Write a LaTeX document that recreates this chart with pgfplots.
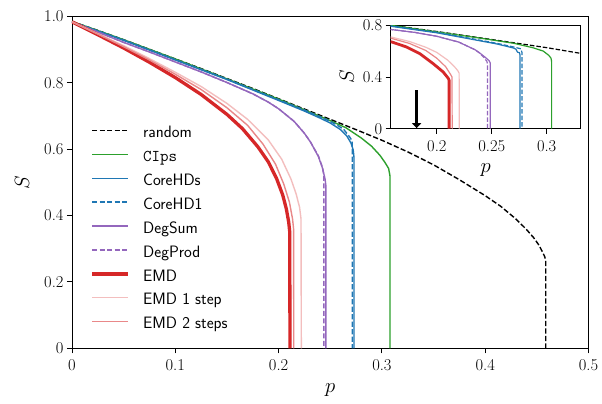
\documentclass[border=0pt]{standalone}
\usepackage{pgfplots}
\pgfplotsset{compat=1.18}
\usetikzlibrary{calc,arrows.meta}
\definecolor{mgreen}{HTML}{2CA02C}
\definecolor{mblue}{HTML}{1F77B4}
\definecolor{mpurple}{HTML}{9467BD}
\definecolor{mred}{HTML}{D62728}
\colorlet{pinkA}{mred!30!white}
\colorlet{pinkB}{mred!55!white}
\begin{document}
\begin{tikzpicture}
\pgfplotsset{
  common/.style={
    scale only axis,
    tick align=outside,
    tick pos=left,
    major tick length=5bp,
    axis line style={line width=0.9bp},
    every tick/.style={line width=0.9bp,black},
    tick label style={font=\fontsize{16.5bp}{19bp}\selectfont},
    xticklabel style={yshift=-3bp},
    label style={font=\fontsize{20bp}{23bp}\selectfont},
    axis background/.style={fill=white},
  },
  lin/.style={line width=1.4bp},
  dsh/.style={line width=1.4bp,dash pattern=on 5.2bp off 2.3bp},
}
\begin{axis}[common,
  at={(0,0)}, anchor=south west,
  width=516.5bp, height=331.8bp,
  xmin=0, xmax=0.5, ymin=0, ymax=1,
  xtick={0,0.1,0.2,0.3,0.4,0.5},
  xticklabels={0,0.1,0.2,0.3,0.4,0.5},
  ytick={0,0.2,0.4,0.6,0.8,1},
  yticklabels={0,0.2,0.4,0.6,0.8,1.0},
  xlabel={$p$}, ylabel={$S$},
  x label style={at={(axis description cs:0.5,-0.1257)}, anchor=center},
  y label style={at={(axis description cs:-0.0968,0.5)}, anchor=center},
  legend cell align=left,
  legend style={at={(axis description cs:0.0296,0.676)}, anchor=north west,
    draw=none, fill=none, font=\fontsize{16.5bp}{19bp}\sffamily,
    nodes={inner sep=0pt, text height=11.5bp, text depth=4.5bp},
    row sep=7.9bp, column sep=13.4bp},
  legend image code/.code={\draw[#1] (0bp,3.7bp) -- (36bp,3.7bp);},
]
\addplot[dsh, black] coordinates {(0,0.985)(0.025,0.958)(0.05,0.930)(0.075,0.901)(0.1,0.872)(0.125,0.843)(0.15,0.813)(0.175,0.783)(0.2,0.752)(0.225,0.721)(0.25,0.690)(0.275,0.659)(0.3,0.627)(0.325,0.592)(0.35,0.553)(0.375,0.508)(0.4,0.460)(0.415,0.428)(0.43,0.389)(0.44,0.358)(0.447,0.333)(0.452,0.311)(0.4555,0.29)(0.4575,0.277)(0.4586,0.265)(0.4586,0)};
\addlegendentry{random}
\addplot[lin, mgreen] coordinates {(0,0.985)(0.05,0.930)(0.1,0.872)(0.15,0.812)(0.2,0.751)(0.25,0.686)(0.265,0.665)(0.28,0.634)(0.29,0.609)(0.298,0.582)(0.303,0.560)(0.3065,0.542)(0.3078,0.52)(0.3078,0)};
\addlegendentry{\texttt{CIps}}
\addplot[lin, mblue] coordinates {(0,0.984)(0.05,0.928)(0.1,0.869)(0.15,0.810)(0.2,0.747)(0.225,0.715)(0.24,0.694)(0.25,0.679)(0.26,0.659)(0.266,0.640)(0.27,0.619)(0.2722,0.598)(0.273,0.575)(0.273,0)};
\addlegendentry{CoreHDs}
\addplot[dsh, mblue] coordinates {(0,0.984)(0.05,0.929)(0.1,0.870)(0.15,0.811)(0.2,0.749)(0.225,0.718)(0.24,0.698)(0.25,0.684)(0.258,0.670)(0.263,0.66)(0.266,0.648)(0.269,0.636)(0.2712,0.625)(0.2714,0.6)(0.2714,0)};
\addlegendentry{CoreHD1}
\addplot[lin, mpurple] coordinates {(0,0.984)(0.025,0.953)(0.05,0.922)(0.075,0.893)(0.1,0.863)(0.125,0.833)(0.15,0.801)(0.175,0.767)(0.19,0.742)(0.2,0.722)(0.215,0.684)(0.225,0.648)(0.231,0.621)(0.2385,0.578)(0.2425,0.543)(0.245,0.51)(0.2458,0.49)(0.2458,0)};
\addlegendentry{DegSum}
\addplot[dsh, mpurple] coordinates {(0,0.984)(0.025,0.953)(0.05,0.922)(0.075,0.893)(0.1,0.863)(0.125,0.833)(0.15,0.801)(0.175,0.767)(0.19,0.742)(0.2,0.722)(0.215,0.684)(0.225,0.648)(0.231,0.621)(0.2385,0.58)(0.2425,0.545)(0.2438,0.52)(0.2438,0)};
\addlegendentry{DegProd}
\addplot[line width=3.3bp, mred] coordinates {(0,0.984)(0.025,0.945)(0.05,0.905)(0.075,0.862)(0.1,0.816)(0.125,0.765)(0.15,0.705)(0.165,0.662)(0.18,0.607)(0.19,0.562)(0.198,0.512)(0.204,0.462)(0.2075,0.42)(0.2098,0.38)(0.2108,0.35)(0.211,0)};
\addlegendentry{EMD}
\addplot[lin, pinkA] coordinates {(0,0.984)(0.025,0.948)(0.05,0.912)(0.075,0.873)(0.1,0.832)(0.125,0.789)(0.15,0.738)(0.17,0.69)(0.19,0.628)(0.203,0.57)(0.212,0.51)(0.217,0.465)(0.2203,0.425)(0.2217,0.39)(0.222,0)};
\addlegendentry{EMD 1 step}
\addplot[lin, pinkB] coordinates {(0,0.984)(0.025,0.947)(0.05,0.909)(0.075,0.869)(0.1,0.826)(0.125,0.78)(0.15,0.725)(0.17,0.672)(0.185,0.615)(0.197,0.555)(0.205,0.495)(0.2105,0.44)(0.2135,0.39)(0.2145,0.36)(0.2147,0)};
\addlegendentry{EMD 2 steps}
\end{axis}
\begin{axis}[common,
  at={(318.7bp,219.6bp)}, anchor=south west,
  width=190bp, height=103.4bp,
  xmin=0.158, xmax=0.331, ymin=0, ymax=0.8,
  xtick={0.2,0.25,0.3}, xticklabels={0.2,0.25,0.3},
  ytick={0,0.4,0.8}, yticklabels={0,0.4,0.8},
  xlabel={$p$}, ylabel={$S$},
  x label style={at={(axis description cs:0.5,-0.3994)}, anchor=center},
  y label style={at={(axis description cs:-0.2316,0.5)}, anchor=center},
  clip=true,
]
\addplot[line width=1.2bp,dash pattern=on 4.5bp off 2bp, black] coordinates {(0.15,0.81)(0.2,0.752)(0.25,0.690)(0.3,0.627)(0.34,0.57)};
\addplot[line width=1.2bp, mgreen] coordinates {(0.15,0.81)(0.2,0.749)(0.24,0.70)(0.27,0.661)(0.2877,0.626)(0.297,0.60)(0.302,0.567)(0.304,0.545)(0.3045,0.52)(0.3045,0)};
\addplot[line width=1.2bp, mblue] coordinates {(0.15,0.802)(0.2,0.742)(0.233,0.69)(0.255,0.655)(0.2695,0.625)(0.272,0.615)(0.2735,0.592)(0.2752,0.588)(0.2758,0.57)(0.2758,0)};
\addplot[line width=1.2bp,dash pattern=on 4.5bp off 2bp, mblue] coordinates {(0.15,0.805)(0.2,0.745)(0.233,0.695)(0.255,0.66)(0.27,0.632)(0.2765,0.618)(0.2775,0.59)(0.2775,0)};
\addplot[line width=1.2bp, mpurple] coordinates {(0.15,0.776)(0.18,0.745)(0.2,0.715)(0.22,0.67)(0.235,0.61)(0.2392,0.585)(0.244,0.553)(0.2475,0.527)(0.2486,0.51)(0.2486,0)};
\addplot[line width=1.2bp,dash pattern=on 4.5bp off 2bp, mpurple] coordinates {(0.15,0.776)(0.18,0.745)(0.2,0.715)(0.22,0.67)(0.235,0.61)(0.2392,0.583)(0.243,0.55)(0.2455,0.522)(0.2462,0.5)(0.2462,0)};
\addplot[line width=2.8bp, mred] coordinates {(0.15,0.69)(0.159,0.671)(0.1725,0.632)(0.1846,0.58)(0.1967,0.503)(0.2058,0.439)(0.2104,0.39)(0.2112,0.375)(0.2112,0)};
\addplot[line width=1.2bp, pinkA] coordinates {(0.15,0.725)(0.159,0.708)(0.175,0.675)(0.19,0.63)(0.2,0.59)(0.21,0.53)(0.216,0.48)(0.219,0.45)(0.2203,0.43)(0.2205,0)};
\addplot[line width=1.2bp, pinkB] coordinates {(0.15,0.715)(0.159,0.698)(0.175,0.66)(0.19,0.605)(0.2,0.545)(0.208,0.48)(0.2125,0.42)(0.2138,0.40)(0.214,0)};
\draw[line width=2.6bp, -{Triangle[length=5bp,width=9bp]}] (axis cs:0.1816,0.297) -- (axis cs:0.1816,0.004);
\end{axis}
\pgfresetboundingbox
\useasboundingbox (-72bp,-55.7bp) rectangle (530bp,348.3bp);
\end{tikzpicture}
\end{document}
